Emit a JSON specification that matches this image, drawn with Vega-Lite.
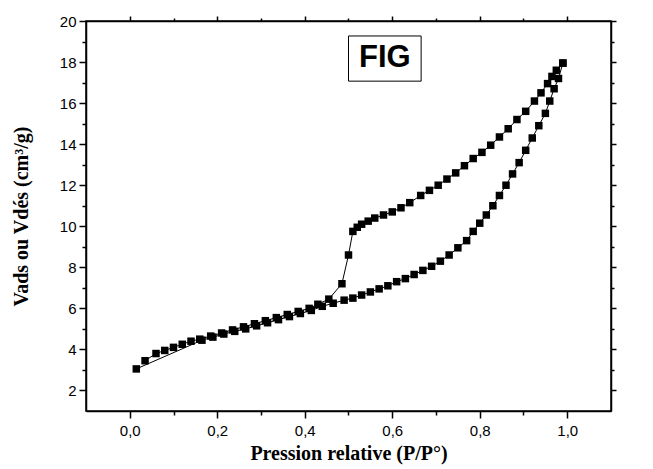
{
  "$schema": "https://vega.github.io/schema/vega-lite/v6.json",
  "width": 525,
  "height": 390,
  "autosize": {"type": "none"},
  "padding": {"left": 86, "top": 21, "right": 42, "bottom": 58},
  "background": "white",
  "config": {
    "view": {"stroke": "black", "strokeWidth": 1.5},
    "axis": {
      "grid": false,
      "domainColor": "black",
      "domainWidth": 1.5,
      "tickColor": "black",
      "tickWidth": 1.5,
      "labelColor": "black",
      "labelFont": "Liberation Sans",
      "labelFontSize": 15,
      "labelFlush": false,
      "labelOverlap": false,
      "titleColor": "black",
      "titleFont": "Liberation Serif",
      "titleFontWeight": "bold",
      "titleFontSize": 20
    }
  },
  "datasets": {
    "iso": [
      {"branch": "adsorption", "p": 0.015, "v": 3.05},
      {"branch": "adsorption", "p": 0.165, "v": 4.45},
      {"branch": "adsorption", "p": 0.19, "v": 4.6},
      {"branch": "adsorption", "p": 0.215, "v": 4.75},
      {"branch": "adsorption", "p": 0.24, "v": 4.88},
      {"branch": "adsorption", "p": 0.265, "v": 5.0},
      {"branch": "adsorption", "p": 0.29, "v": 5.15},
      {"branch": "adsorption", "p": 0.315, "v": 5.3},
      {"branch": "adsorption", "p": 0.34, "v": 5.45},
      {"branch": "adsorption", "p": 0.365, "v": 5.6},
      {"branch": "adsorption", "p": 0.39, "v": 5.75},
      {"branch": "adsorption", "p": 0.415, "v": 5.9},
      {"branch": "adsorption", "p": 0.44, "v": 6.1},
      {"branch": "adsorption", "p": 0.465, "v": 6.25},
      {"branch": "adsorption", "p": 0.49, "v": 6.4},
      {"branch": "adsorption", "p": 0.51, "v": 6.5},
      {"branch": "adsorption", "p": 0.53, "v": 6.65},
      {"branch": "adsorption", "p": 0.55, "v": 6.8},
      {"branch": "adsorption", "p": 0.57, "v": 6.95},
      {"branch": "adsorption", "p": 0.59, "v": 7.1},
      {"branch": "adsorption", "p": 0.61, "v": 7.3},
      {"branch": "adsorption", "p": 0.63, "v": 7.45},
      {"branch": "adsorption", "p": 0.65, "v": 7.65},
      {"branch": "adsorption", "p": 0.67, "v": 7.85},
      {"branch": "adsorption", "p": 0.69, "v": 8.05},
      {"branch": "adsorption", "p": 0.71, "v": 8.3},
      {"branch": "adsorption", "p": 0.73, "v": 8.6},
      {"branch": "adsorption", "p": 0.75, "v": 8.95},
      {"branch": "adsorption", "p": 0.77, "v": 9.3},
      {"branch": "adsorption", "p": 0.785, "v": 9.75},
      {"branch": "adsorption", "p": 0.8, "v": 10.15},
      {"branch": "adsorption", "p": 0.815, "v": 10.55},
      {"branch": "adsorption", "p": 0.83, "v": 11.0},
      {"branch": "adsorption", "p": 0.845, "v": 11.5},
      {"branch": "adsorption", "p": 0.86, "v": 12.0},
      {"branch": "adsorption", "p": 0.875, "v": 12.55},
      {"branch": "adsorption", "p": 0.89, "v": 13.1},
      {"branch": "adsorption", "p": 0.905, "v": 13.7},
      {"branch": "adsorption", "p": 0.92, "v": 14.3},
      {"branch": "adsorption", "p": 0.935, "v": 14.9},
      {"branch": "adsorption", "p": 0.95, "v": 15.5},
      {"branch": "adsorption", "p": 0.96, "v": 16.1},
      {"branch": "adsorption", "p": 0.97, "v": 16.7},
      {"branch": "adsorption", "p": 0.98, "v": 17.2},
      {"branch": "adsorption", "p": 0.99, "v": 17.95},
      {"branch": "desorption", "p": 0.99, "v": 17.95},
      {"branch": "desorption", "p": 0.975, "v": 17.6},
      {"branch": "desorption", "p": 0.965, "v": 17.3},
      {"branch": "desorption", "p": 0.955, "v": 16.95},
      {"branch": "desorption", "p": 0.94, "v": 16.5},
      {"branch": "desorption", "p": 0.925, "v": 16.1},
      {"branch": "desorption", "p": 0.905, "v": 15.6},
      {"branch": "desorption", "p": 0.885, "v": 15.2},
      {"branch": "desorption", "p": 0.865, "v": 14.75},
      {"branch": "desorption", "p": 0.845, "v": 14.35},
      {"branch": "desorption", "p": 0.825, "v": 13.95},
      {"branch": "desorption", "p": 0.805, "v": 13.6},
      {"branch": "desorption", "p": 0.785, "v": 13.3},
      {"branch": "desorption", "p": 0.765, "v": 12.95},
      {"branch": "desorption", "p": 0.745, "v": 12.6},
      {"branch": "desorption", "p": 0.725, "v": 12.3},
      {"branch": "desorption", "p": 0.705, "v": 12.0},
      {"branch": "desorption", "p": 0.685, "v": 11.75},
      {"branch": "desorption", "p": 0.665, "v": 11.5},
      {"branch": "desorption", "p": 0.64, "v": 11.15},
      {"branch": "desorption", "p": 0.62, "v": 10.9},
      {"branch": "desorption", "p": 0.6, "v": 10.7},
      {"branch": "desorption", "p": 0.58, "v": 10.55},
      {"branch": "desorption", "p": 0.56, "v": 10.4},
      {"branch": "desorption", "p": 0.545, "v": 10.25},
      {"branch": "desorption", "p": 0.53, "v": 10.1},
      {"branch": "desorption", "p": 0.52, "v": 9.95},
      {"branch": "desorption", "p": 0.51, "v": 9.75},
      {"branch": "desorption", "p": 0.5, "v": 8.6},
      {"branch": "desorption", "p": 0.485, "v": 7.2},
      {"branch": "desorption", "p": 0.455, "v": 6.45},
      {"branch": "desorption", "p": 0.43, "v": 6.2},
      {"branch": "desorption", "p": 0.41, "v": 6.0},
      {"branch": "desorption", "p": 0.385, "v": 5.85},
      {"branch": "desorption", "p": 0.36, "v": 5.7},
      {"branch": "desorption", "p": 0.335, "v": 5.55},
      {"branch": "desorption", "p": 0.31, "v": 5.4},
      {"branch": "desorption", "p": 0.285, "v": 5.25},
      {"branch": "desorption", "p": 0.26, "v": 5.1},
      {"branch": "desorption", "p": 0.235, "v": 4.95},
      {"branch": "desorption", "p": 0.21, "v": 4.8},
      {"branch": "desorption", "p": 0.185, "v": 4.65},
      {"branch": "desorption", "p": 0.16, "v": 4.5},
      {"branch": "desorption", "p": 0.14, "v": 4.4},
      {"branch": "desorption", "p": 0.12, "v": 4.25},
      {"branch": "desorption", "p": 0.1, "v": 4.1},
      {"branch": "desorption", "p": 0.08, "v": 3.95},
      {"branch": "desorption", "p": 0.06, "v": 3.8},
      {"branch": "desorption", "p": 0.035, "v": 3.45}
    ]
  },
  "data": {"name": "iso"},
  "layer": [
    {
      "mark": {"type": "line", "color": "black", "strokeWidth": 1},
      "encoding": {
        "x": {
          "field": "p", "type": "quantitative",
          "scale": {"domain": [-0.1, 1.1], "nice": false, "zero": false},
          "axis": {
            "orient": "bottom",
            "title": "Pression relative (P/P°)",
            "values": [0, 0.1, 0.2, 0.3, 0.4, 0.5, 0.6, 0.7, 0.8, 0.9, 1.0],
            "labelExpr": "abs(datum.value*5-round(datum.value*5))<0.001 ? replace(format(datum.value,'.1f'),'.',',') : ''",
            "tickSize": {"condition": {"test": "abs(datum.value*5-round(datum.value*5))<0.001", "value": 7}, "value": 4},
            "labelPadding": 5,
            "titlePadding": 5
          }
        },
        "y": {
          "field": "v", "type": "quantitative",
          "scale": {"domain": [1, 20], "nice": false, "zero": false},
          "axis": {
            "orient": "left",
            "title": "Vads ou Vdés (cm³/g)",
            "values": [2, 3, 4, 5, 6, 7, 8, 9, 10, 11, 12, 13, 14, 15, 16, 17, 18, 19, 20],
            "labelExpr": "datum.value % 2 == 0 ? datum.label : ''",
            "tickSize": {"condition": {"test": "datum.value % 2 == 0", "value": 7}, "value": 4},
            "labelPadding": 3,
            "titlePadding": 28
          }
        },
        "detail": {"field": "branch"}
      }
    },
    {
      "mark": {"type": "point", "shape": "square", "filled": true, "color": "black", "opacity": 1, "size": 56},
      "encoding": {
        "x": {
          "field": "p", "type": "quantitative",
          "axis": {
            "orient": "top", "title": null, "labels": false,
            "values": [0, 0.1, 0.2, 0.3, 0.4, 0.5, 0.6, 0.7, 0.8, 0.9, 1.0],
            "tickSize": {"condition": {"test": "abs(datum.value*5-round(datum.value*5))<0.001", "value": 5}, "value": 3}
          }
        },
        "y": {
          "field": "v", "type": "quantitative",
          "axis": {
            "orient": "right", "title": null, "labels": false,
            "values": [2, 3, 4, 5, 6, 7, 8, 9, 10, 11, 12, 13, 14, 15, 16, 17, 18, 19, 20],
            "tickSize": {"condition": {"test": "datum.value % 2 == 0", "value": 5}, "value": 3}
          }
        }
      }
    },
    {
      "data": {"values": [{"label": "FIG"}]},
      "mark": {"type": "rect", "fill": "white", "stroke": "black", "strokeWidth": 1},
      "encoding": {
        "x": {"datum": 0.5, "type": "quantitative", "axis": null},
        "x2": {"datum": 0.666},
        "y": {"datum": 19.27, "type": "quantitative", "axis": null},
        "y2": {"datum": 17.07}
      }
    },
    {
      "data": {"values": [{"label": "FIG"}]},
      "mark": {"type": "text", "font": "Liberation Sans", "fontWeight": "bold", "fontSize": 31, "color": "black", "baseline": "middle", "align": "center"},
      "encoding": {
        "x": {"datum": 0.583, "type": "quantitative", "axis": null},
        "y": {"datum": 18.2, "type": "quantitative", "axis": null},
        "text": {"field": "label"}
      }
    }
  ],
  "resolve": {"axis": {"x": "independent", "y": "independent"}}
}
